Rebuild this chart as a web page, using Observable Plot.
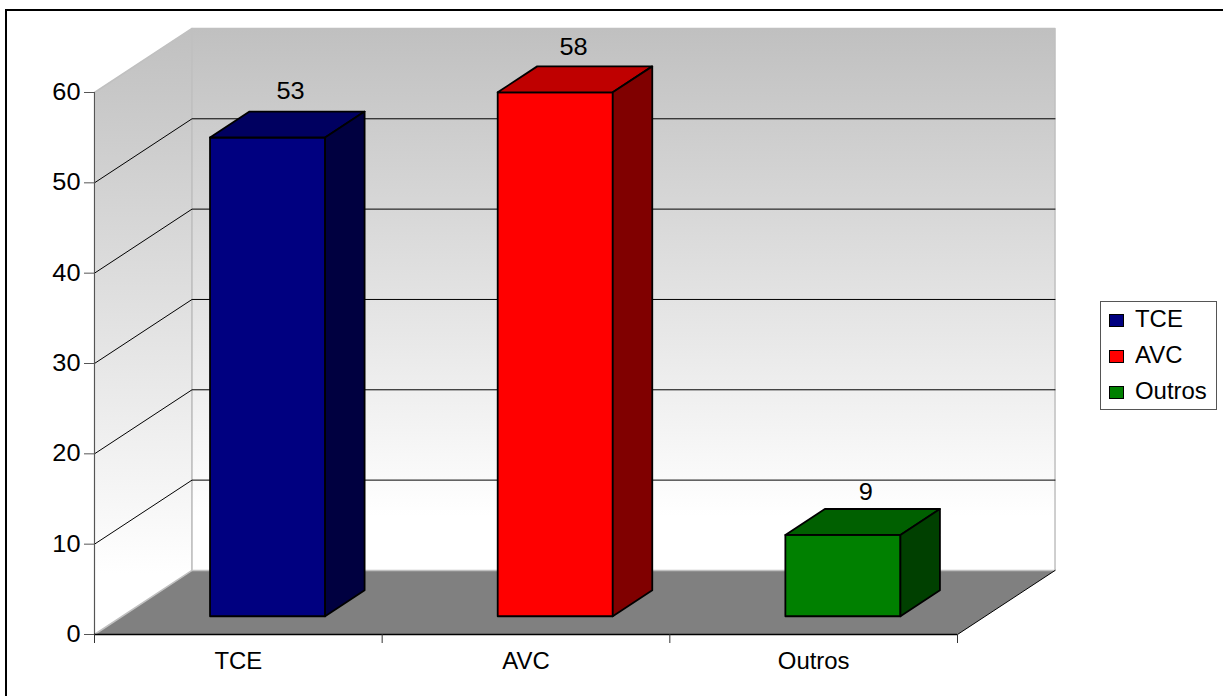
<!DOCTYPE html>
<html>
<head>
<meta charset="utf-8">
<script src="https://cdn.jsdelivr.net/npm/d3@7"></script>
<script src="https://cdn.jsdelivr.net/npm/@observablehq/plot@0.6"></script>
<style>
html,body{margin:0;padding:0;background:#fff;}
#page{position:relative;width:1223px;height:696px;overflow:hidden;font-family:"Liberation Sans",Arial,sans-serif;}
#frame{position:absolute;left:5px;top:9px;width:1300px;height:800px;border-left:2px solid #000;border-top:2px solid #000;}
#plot{position:absolute;left:0;top:0;}
#legend{position:absolute;left:1100px;top:301px;width:115px;height:107px;border:1px solid #555;background:#fff;}
.row{position:absolute;left:0;height:24px;line-height:24px;font-size:23px;color:#000;white-space:nowrap;}
.sw{position:absolute;left:8px;top:7px;width:13px;height:11px;border:1.5px solid #000;}
.lb{position:absolute;left:34px;top:0;transform:scaleX(1.04);transform-origin:left center;}
</style>
</head>
<body>
<div id="page"><div id="frame"></div><div id="plot"></div><div id="legend"></div></div>
<script>
const categories = ["TCE", "AVC", "Outros"];
const values = [53, 58, 9];
const frontColors = ["#000080", "#ff0000", "#008000"];
const topColors = ["#000060", "#bf0000", "#006000"];
const sideColors = ["#000040", "#800000", "#004000"];
const yTicks = [0, 10, 20, 30, 40, 50, 60];
const gridValues = [10, 20, 30, 40, 50];
const xBoundaries = [0, 1, 2, 3];

// oblique projection of (category position, value, depth 0..1) into data units
const depthX = 0.339, depthY = 7.09;
const P = (c, v, d, id, fill) => ({x: c + d * depthX, y: v + d * depthY, id, fill});

const halfBar = 0.2, d0 = 0.285, d1 = 0.69, barShift = 0.005;
const faces = categories.flatMap((name, i) => {
  const c0 = i + 0.5 + barShift - halfBar, c1 = i + 0.5 + barShift + halfBar, v = values[i];
  return [
    ...[[c0, 0, d0], [c1, 0, d0], [c1, v, d0], [c0, v, d0]].map(p => P(...p, name + "-front", frontColors[i])),
    ...[[c0, v, d0], [c1, v, d0], [c1, v, d1], [c0, v, d1]].map(p => P(...p, name + "-top", topColors[i])),
    ...[[c1, 0, d0], [c1, 0, d1], [c1, v, d1], [c1, v, d0]].map(p => P(...p, name + "-side", sideColors[i]))
  ];
});

const backWall = [[0, 0, 1], [3, 0, 1], [3, 60, 1], [0, 60, 1]].map(p => P(...p));
const sideWall = [[0, 0, 0], [0, 0, 1], [0, 60, 1], [0, 60, 0]].map(p => P(...p));
const floor = [[0, 0, 0], [3, 0, 0], [3, 0, 1], [0, 0, 1]].map(p => P(...p));
const grid = gridValues.flatMap(v => [[0, v, 0], [0, v, 1], [3, v, 1]].map(p => P(...p, "g" + v)));
const floorEdge = [[3, 0, 0], [3, 0, 1]].map(p => P(...p));
const labelNudgeX = [0.016, 0, 0.016], labelNudgeY = [0.1, 0, -0.33];
const valueLabels = categories.map((name, i) => ({
  x: i + 0.5 + (d0 + d1) / 2 * depthX + labelNudgeX[i],
  y: values[i] + d1 * depthY + labelNudgeY[i],
  text: String(values[i])
}));
const catTicks = categories.map((_, i) => i + 0.5);

const defs = () => {
  const svgNS = "http://www.w3.org/2000/svg";
  const d = document.createElementNS(svgNS, "defs");
  const g = document.createElementNS(svgNS, "linearGradient");
  g.setAttribute("id", "wall");
  g.setAttribute("x1", 0); g.setAttribute("y1", 0); g.setAttribute("x2", 0); g.setAttribute("y2", 1);
  [["0%", "#c0c0c0"], ["90%", "#ffffff"], ["100%", "#ffffff"]].forEach(([o, c]) => {
    const s = document.createElementNS(svgNS, "stop");
    s.setAttribute("offset", o); s.setAttribute("stop-color", c);
    g.appendChild(s);
  });
  d.appendChild(g);
  return d;
};

const chart = Plot.plot({
  width: 1223,
  height: 696,
  marginLeft: 94,
  marginRight: 266,
  marginTop: 92,
  marginBottom: 62,
  x: {type: "linear", domain: [0, 3], axis: null},
  y: {type: "linear", domain: [0, 60], axis: null},
  color: {type: "identity"},
  style: {background: "transparent", fontFamily: "'Liberation Sans', Arial, sans-serif", fontSize: "23px", overflow: "visible"},
  marks: [
    defs,
    Plot.line(floor, {x: "x", y: "y", fill: "#808080", stroke: "none", curve: "linear-closed"}),
    Plot.line(sideWall, {x: "x", y: "y", fill: "url(#wall)", stroke: "#c0c0c0", strokeWidth: 1.5, curve: "linear-closed"}),
    Plot.line(backWall, {x: "x", y: "y", fill: "url(#wall)", stroke: "#c0c0c0", strokeWidth: 1.5, curve: "linear-closed"}),
    Plot.line(grid, {x: "x", y: "y", z: "id", stroke: "#000", strokeWidth: 1}),
    Plot.line(floorEdge, {x: "x", y: "y", stroke: "#000", strokeWidth: 1}),
    Plot.line(faces, {x: "x", y: "y", z: "id", fill: "fill", stroke: "#000", strokeWidth: 1.8, curve: "linear-closed"}),
    Plot.text(valueLabels, {x: "x", y: "y", text: "text", dy: -19, fill: "#000", fontSize: 23}),
    Plot.ruleX([0], {y1: 0, y2: 60, stroke: "#555", strokeWidth: 1}),
    Plot.ruleY([0], {x1: 0, x2: 3, stroke: "#000", strokeWidth: 1.4}),
    Plot.axisY({ticks: yTicks, tickSize: 10, tickPadding: 4, stroke: "#555", fill: "#000", label: null, fontSize: 23}),
    Plot.axisX({ticks: xBoundaries, tickSize: 9, tickFormat: () => "", stroke: "#333", label: null}),
    Plot.axisX({ticks: catTicks, tickSize: 0, tickPadding: 18, tickFormat: d => categories[Math.floor(d)], fill: "#000", label: null, fontSize: 23})
  ]
});
document.getElementById("plot").appendChild(chart);

// reference text is slightly wider than the font's natural proportions
chart.querySelectorAll("text").forEach(t => {
  const len = t.getComputedTextLength();
  if (len > 0) {
    const widen = /^\d+$/.test(t.textContent.trim()) ? 1.1 : 1.04;
    t.setAttribute("textLength", (len * widen).toFixed(1));
    t.setAttribute("lengthAdjust", "spacingAndGlyphs");
  }
});

const legend = document.getElementById("legend");
categories.forEach((name, i) => {
  const row = document.createElement("div");
  row.className = "row";
  row.style.top = (5 + i * 36) + "px";
  row.style.width = "100%";
  const sw = document.createElement("span");
  sw.className = "sw";
  sw.style.background = frontColors[i];
  const lb = document.createElement("span");
  lb.className = "lb";
  lb.textContent = name;
  row.append(sw, lb);
  legend.appendChild(row);
});
</script>
</body>
</html>
